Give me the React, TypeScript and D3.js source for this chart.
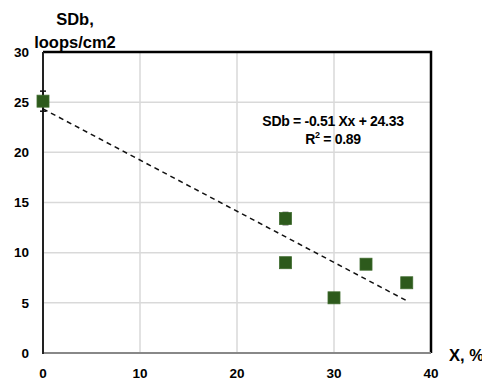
import React, { FC } from 'react';
import * as d3 from 'd3';

const xValues = [0, 25, 25, 30, 33.3, 37.5];
const yValues = [25.1, 13.4, 9.0, 5.5, 8.85, 7.0];
const yErrors = [1.0, 0.6, 0, 0, 0, 0];
const xTicks = [0, 10, 20, 30, 40];
const yTicks = [0, 5, 10, 15, 20, 25, 30];
const slope = -0.51;
const intercept = 24.33;

const width = 482;
const height = 381;
const margin = { top: 52, right: 51, bottom: 28, left: 43 };

const App: FC = () => (
  <div
    style={{ position: 'absolute', left: 0, top: 0 }}
    ref={(elem) => {
      if (!elem) {
        return;
      }
      const svg = chart();
      if (!svg) {
        return;
      }
      elem.innerHTML = '';
      elem.appendChild(svg);
    }}
  />
);

const chart = () => {
  const x = d3
    .scaleLinear()
    .domain([0, 40])
    .range([margin.left, width - margin.right]);
  const y = d3
    .scaleLinear()
    .domain([0, 30])
    .range([height - margin.bottom, margin.top]);

  const svg = d3
    .create('svg')
    .attr('width', width)
    .attr('height', height)
    .attr('font-family', 'Liberation Sans, Arial, sans-serif')
    .style('display', 'block');

  svg.append('rect').attr('width', width).attr('height', height).attr('fill', '#fff');

  // grid
  const grid = svg.append('g').attr('stroke', '#d9d9d9').attr('stroke-width', 1.5);
  grid
    .selectAll('line.v')
    .data(xTicks.slice(1, -1))
    .join('line')
    .attr('x1', (d) => x(d))
    .attr('x2', (d) => x(d))
    .attr('y1', y(30))
    .attr('y2', y(0));
  grid
    .selectAll('line.h')
    .data(yTicks.slice(1, -1))
    .join('line')
    .attr('x1', x(0))
    .attr('x2', x(40))
    .attr('y1', (d) => y(d))
    .attr('y2', (d) => y(d));

  // frame
  svg
    .append('path')
    .attr('d', `M${x(0)},${y(30)}H${x(40)}V${y(0)}`)
    .attr('fill', 'none')
    .attr('stroke', '#000')
    .attr('stroke-width', 2.5);
  svg
    .append('line')
    .attr('x1', x(0))
    .attr('x2', x(40))
    .attr('y1', y(0))
    .attr('y2', y(0))
    .attr('stroke', '#888')
    .attr('stroke-width', 2);
  svg
    .append('line')
    .attr('x1', x(0))
    .attr('x2', x(0))
    .attr('y1', y(30))
    .attr('y2', y(0) + 1)
    .attr('stroke', '#222')
    .attr('stroke-width', 2);

  // equation (white box behind breaks the grid like the original label)
  const eqX = 333;
  const eq = svg
    .append('text')
    .attr('font-size', 14)
    .attr('font-weight', 'bold')
    .attr('text-anchor', 'middle')
    .attr('letter-spacing', -0.3);
  eq.append('tspan')
    .attr('x', eqX)
    .attr('y', 126)
    .text(`SDb = ${slope} Xx + ${intercept}`);
  const r2 = eq.append('tspan').attr('x', eqX).attr('y', 144);
  r2.append('tspan').text('R');
  r2.append('tspan').attr('font-size', 9).attr('dy', -6).text('2');
  r2.append('tspan').attr('dy', 6).text(' = 0.89');

  // trend line
  const xMax = d3.max(xValues) || 0;
  svg
    .append('line')
    .attr('x1', x(0))
    .attr('y1', y(intercept))
    .attr('x2', x(xMax))
    .attr('y2', y(intercept + slope * xMax))
    .attr('stroke', '#111')
    .attr('stroke-width', 1.5)
    .attr('stroke-dasharray', '5,4');

  const data = xValues.map((v, i) => ({ x: v, y: yValues[i], e: yErrors[i] }));

  // error bars
  const err = svg
    .append('g')
    .attr('stroke', '#111')
    .attr('stroke-width', 1.5)
    .selectAll('g')
    .data(data.filter((d) => d.e > 0))
    .join('g');
  err
    .append('line')
    .attr('x1', (d) => x(d.x))
    .attr('x2', (d) => x(d.x))
    .attr('y1', (d) => y(d.y + d.e))
    .attr('y2', (d) => y(d.y - d.e));
  err
    .append('line')
    .attr('x1', (d) => x(d.x) - 3)
    .attr('x2', (d) => x(d.x) + 3)
    .attr('y1', (d) => y(d.y + d.e))
    .attr('y2', (d) => y(d.y + d.e));
  err
    .append('line')
    .attr('x1', (d) => x(d.x) - 3)
    .attr('x2', (d) => x(d.x) + 3)
    .attr('y1', (d) => y(d.y - d.e))
    .attr('y2', (d) => y(d.y - d.e));

  // points
  const s = 12;
  svg
    .append('g')
    .attr('fill', '#2d5a1c')
    .attr('stroke', '#3f6b2e')
    .attr('stroke-width', 0.8)
    .selectAll('rect')
    .data(data)
    .join('rect')
    .attr('x', (d) => x(d.x) - s / 2)
    .attr('y', (d) => y(d.y) - s / 2)
    .attr('width', s)
    .attr('height', s);

  // tick labels
  svg
    .append('g')
    .attr('font-size', 13.5)
    .attr('font-weight', 'bold')
    .attr('text-anchor', 'middle')
    .selectAll('text')
    .data(xTicks)
    .join('text')
    .attr('x', (d) => x(d))
    .attr('y', height - 3)
    .text((d) => d);
  svg
    .append('g')
    .attr('font-size', 13.5)
    .attr('font-weight', 'bold')
    .attr('text-anchor', 'end')
    .selectAll('text')
    .data(yTicks)
    .join('text')
    .attr('x', 29)
    .attr('y', (d) => y(d))
    .attr('dy', '0.35em')
    .text((d) => d);

  // axis titles
  const title = svg
    .append('text')
    .attr('font-size', 16.5)
    .attr('font-weight', 'bold')
    .attr('text-anchor', 'middle');
  title.append('tspan').attr('x', 75).attr('y', 25).text('SDb,');
  title.append('tspan').attr('x', 75).attr('y', 48).text('loops/cm2');
  svg
    .append('text')
    .attr('font-size', 16.5)
    .attr('font-weight', 'bold')
    .attr('x', 449)
    .attr('y', 361)
    .text('X, %');

  return svg.node();
};

export default App;
